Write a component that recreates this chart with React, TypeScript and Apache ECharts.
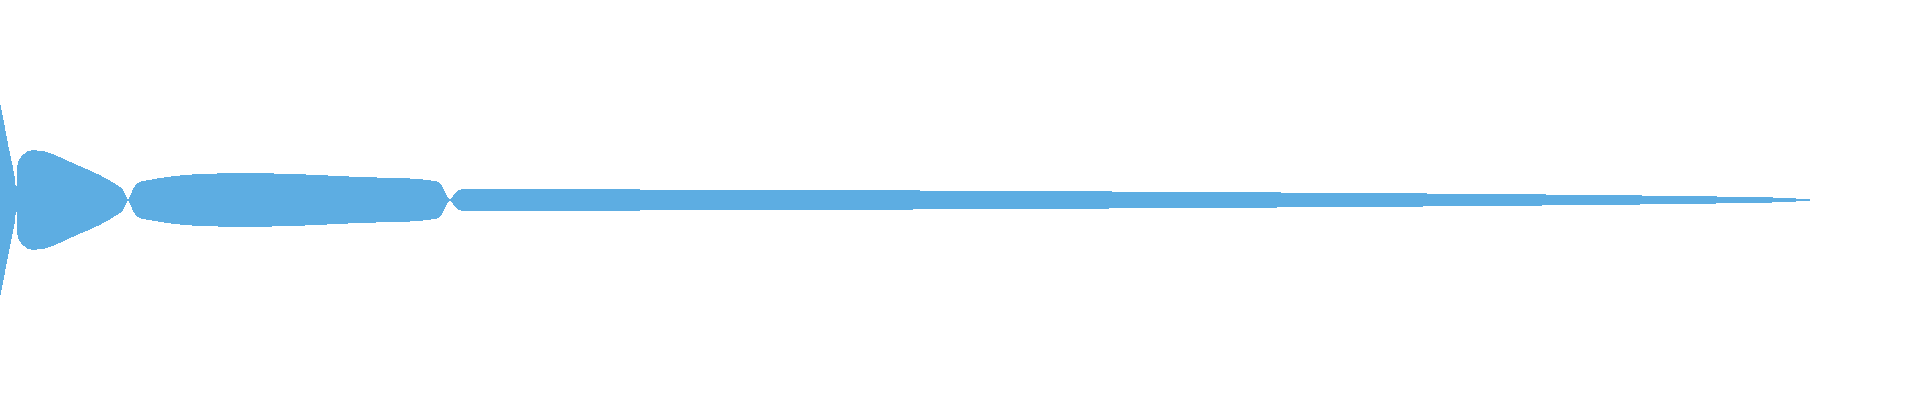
import { useEffect, useRef } from "react";
import * as echarts from "echarts";

// positions along the axis and the signed stream width at each one
const offsets = [
  0, 8, 16, 17, 33, 77, 120, 128, 141, 250, 360, 435, 450, 462, 640, 805, 1015,
  1197, 1355, 1487, 1595, 1681, 1745, 1787, 1816,
];
const values = [
  196, 112, 20, -66, -100, -70, -26, 0, 37, 53.4, 46, 38, 0, -21.5, -21, -20,
  -18, -16, -14, -12, -10, -8, -6, -4, 0,
];
const layerName = "stream";

export default function App() {
  const chartRef = useRef<HTMLDivElement>(null);

  useEffect(() => {
    if (!chartRef.current) return;
    const chart = echarts.init(chartRef.current, null, { renderer: "svg" });

    chart.setOption({
      animation: false,
      color: ["#5dade2"],
      singleAxis: {
        type: "value",
        min: 0,
        max: 1920,
        left: 0,
        right: 0,
        top: 0,
        bottom: 0,
        axisLine: { show: false },
        axisTick: { show: false },
        axisLabel: { show: false },
        splitLine: { show: false },
        axisPointer: { show: false },
      },
      series: [
        {
          type: "themeRiver",
          boundaryGap: ["25.5%", "25.5%"],
          label: { show: false },
          emphasis: { disabled: true },
          itemStyle: { opacity: 1 },
          data: offsets.map((x, i) => [x, values[i], layerName]),
        },
      ],
    });

    return () => {
      chart.dispose();
    };
  }, []);

  return (
    <>
      {/* the reference has hard, non-antialiased edges */}
      <style>{"#river svg path { shape-rendering: crispEdges; }"}</style>
      <div
        id="river"
        ref={chartRef}
        style={{ position: "absolute", left: 0, top: 0, width: 1920, height: 400 }}
      />
    </>
  );
}
